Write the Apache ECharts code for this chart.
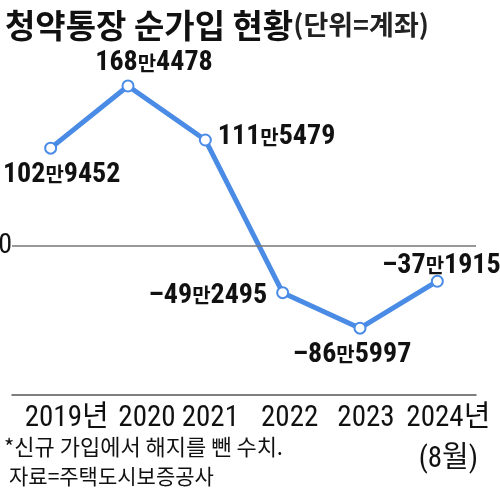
<!DOCTYPE html>
<html>
<head>
<meta charset="utf-8">
<script src="https://cdn.jsdelivr.net/npm/echarts@6/dist/echarts.min.js"></script>
<style>
html,body{margin:0;padding:0;background:#fff;}
#chart{width:500px;height:494px;}
</style>
</head>
<body>
<div id="chart"></div>
<script>
var years = ['2019년', '2020', '2021', '2022', '2023', '2024년\n(8월)'];
var values = [1029452, 1684478, 1115479, -492495, -865997, -371915];
var labelPos = ['bottom', 'top', 'right', 'left', 'bottom', 'top'];
var labelOffset = [[11, 0], [26, 4], [0, -3], [-3, 3], [-8, 0], [4, 11]];
var yearShift = [32, 38, 10, 14, 12, 22];

var FONT = "'Roboto Condensed', 'Noto Sans CJK KR', sans-serif";
var KFONT = "'Noto Sans CJK KR', sans-serif";

// 102만9452 처럼 표시
function fmt(v){
	var a = Math.abs(v);
	return '{d|' + (v < 0 ? '–' : '') + Math.floor(a / 10000) + '}{m|만}{d|' + (a % 10000) + '}';
}

var chart = echarts.init(document.getElementById('chart'));

var xData = years.map(function(y, i){
	return {value: y, textStyle: {padding: [0, 0, 0, yearShift[i]]}};
});

var points = values.map(function(v, i){
	return {value: v, label: {position: labelPos[i], offset: labelOffset[i]}};
});

option = {
	animation: false,
	title: {
		left: 0,
		top: 0,
		text: '{a|청약통장 순가입 현황}{b|(단위=계좌)}',
		textStyle: {
			rich: {
				a: {fontFamily: KFONT, fontWeight: 'bold', fontSize: 33, lineHeight: 40, color: '#111'},
				b: {fontFamily: KFONT, fontSize: 27, lineHeight: 40, color: '#222'}
			}
		}
	},
	grid: {left: 12, right: 24, top: 56, bottom: 99, containLabel: false, outerBoundsMode: 'none'},
	xAxis: {
		type: 'category',
		data: xData,
		boundaryGap: true,
		axisLine: {onZero: false, lineStyle: {color: '#555', width: 1.5}},
		axisTick: {alignWithLabel: true, length: 8, inside: true, lineStyle: {color: '#555', width: 1.2}},
		axisLabel: {fontFamily: FONT, fontSize: 29, color: '#111', margin: 3, lineHeight: 41, interval: 0}
	},
	yAxis: {
		type: 'value',
		min: -1570000,
		max: 2000000,
		show: false
	},
	graphic: [
		{type: 'text', left: 4, top: 436, style: {text: '*신규 가입에서 해지를 뺀 수치.', font: '22px ' + KFONT, fill: '#111'}},
		{type: 'text', left: 9, top: 466, style: {text: '자료=주택도시보증공사', font: '21px ' + KFONT, fill: '#111'}}
	],
	series: [{
		type: 'line',
		data: points,
		symbol: 'circle',
		symbolSize: 11,
		itemStyle: {color: '#fff', borderColor: '#4a8be6', borderWidth: 2},
		lineStyle: {color: '#4a8be6', width: 5},
		label: {
			show: true,
			formatter: function(p){ return fmt(p.value); },
			distance: 6,
			rich: {
				d: {fontFamily: FONT, fontWeight: 'bold', fontSize: 28, color: '#111'},
				m: {fontFamily: KFONT, fontWeight: 'bold', fontSize: 20, color: '#111'}
			}
		},
		markLine: {
			silent: true,
			symbol: 'none',
			lineStyle: {type: 'solid', color: '#777', width: 1.5},
			label: {position: 'start', formatter: '0', fontFamily: FONT, fontSize: 28, color: '#111', distance: 0, padding: [6, 0, 0, 0]},
			data: [{yAxis: 0}]
		},
		z: 3
	}]
};
chart.setOption(option);
</script>
</body>
</html>
